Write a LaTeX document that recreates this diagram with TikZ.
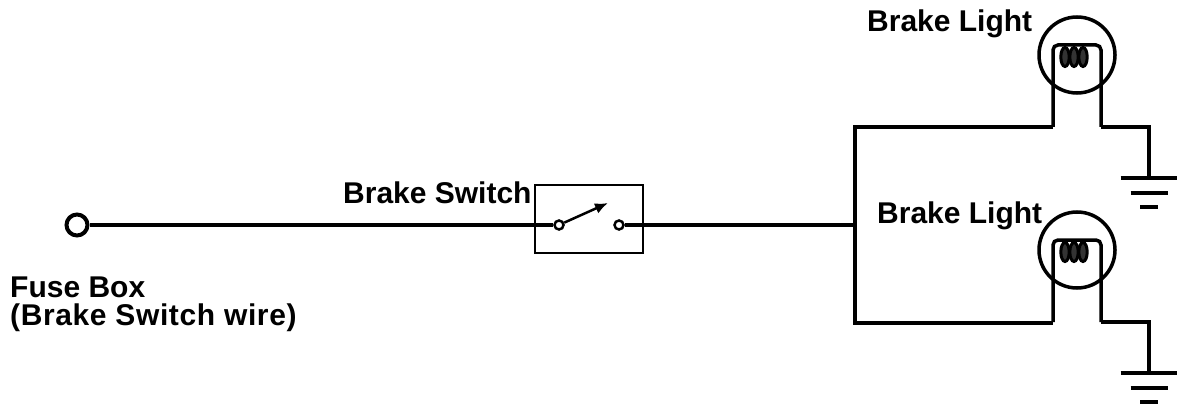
\documentclass[tikz,border=0pt]{standalone}
\usepackage{fontspec}
\setmainfont{Liberation Sans}
\usetikzlibrary{arrows.meta}

\begin{document}
\begin{tikzpicture}[
        x=1pt,y=-1pt,
        wire/.style={line width=3.5pt},
        label/.style={anchor=base west,inner sep=0pt,font=\fontsize{30}{28}\selectfont\bfseries},
        terminal/.style={circle,draw,line width=4pt,minimum size=21pt,inner sep=0pt},
        contact/.style={circle,draw,line width=2.5pt,minimum size=9pt,inner sep=0pt},
        lamp/.style={circle,draw,line width=3.5pt,minimum size=76pt,inner sep=0pt}
    ]
    \useasboundingbox (0,0) rectangle (1177,409);

    % fuse box terminal and switch
    \node[terminal] (fuse) at (77,225) {};
    \node[draw,line width=2.5pt,minimum width=108pt,minimum height=68pt,inner sep=0pt] (switch) at (589,219) {};
    \node[contact] (swL) at (559,225) {};
    \node[contact] (swR) at (619,225) {};
    \coordinate (tap) at (855,225);

    \draw [wire] (fuse) -- (swL);
    \draw [wire] (swR) -- (tap);
    \draw [line width=2.5pt,-{Latex[length=13pt,width=11pt]}] (swL) -- (608,203);

    \node[label] (swlabel) at (343,203) {Brake Switch};
    \node[label] (fuselabel) at (10,297) {Fuse Box};
    \node[label] (wirelabel) at (10,325) {\addfontfeature{LetterSpace=2}(Brake Switch wire)};

    % lamps and grounds
    \foreach \n/\y in {A/55,B/250} {
        \node[lamp] (lamp\n) at (1077,\y) {};
        \coordinate (gnd\n) at (1149,\y+123);
        \draw [wire,rounded corners=5pt] (1053,\y+72) |- (1101,\y-10) -- (1101,\y+72);
        \foreach \dx in {-12,-3,6} {
            \draw [line width=3pt,fill=black!80] (1077+\dx,\y+2) ellipse [x radius=4.2pt,y radius=9.5pt];
        }
        \draw [wire] (1101,\y+72) -| (gnd\n);
        \draw [wire] (gnd\n) ++(-28.5,0) -- ++(57,0);
        \draw [wire] (gnd\n) ++(-18.5,15) -- ++(37,0);
        \draw [wire] (gnd\n) ++(-9,29) -- ++(18,0);
    }
    \draw [wire] (1053,127) -- (855,127) -- (855,323) -- (1053,323);

    \node[label] (lightA) at (867,32) {Brake Light};
    \node[label] (lightB) at (877,223) {Brake Light};
\end{tikzpicture}
\end{document}
